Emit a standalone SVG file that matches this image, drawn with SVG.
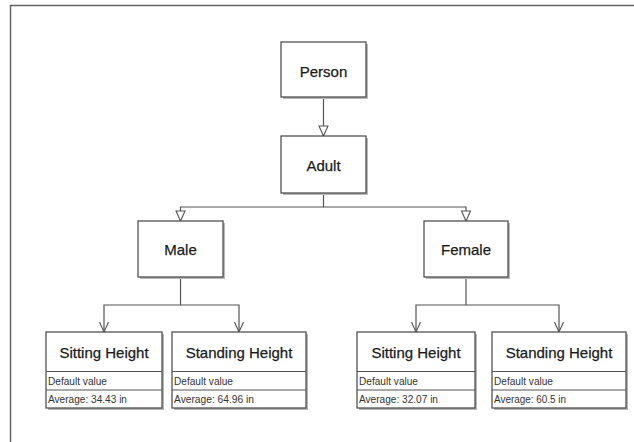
<svg xmlns="http://www.w3.org/2000/svg" width="634" height="442" viewBox="0 0 634 442">
<style>
.box{fill:#fff;stroke:#444;stroke-width:1.2}
.sh{fill:#b8b8b8}
.ln{fill:none;stroke:#555;stroke-width:1.2}
.t{font-family:"Liberation Sans",Arial,sans-serif;font-size:15px;fill:#1a1a1a;text-anchor:middle;stroke:#1a1a1a;stroke-width:0.25}
.s{font-family:"Liberation Sans",Arial,sans-serif;font-size:10px;fill:#333}
</style>
<defs>
<marker id="tri" markerUnits="userSpaceOnUse" markerWidth="12" markerHeight="12" viewBox="0 0 12 12" refX="11" refY="6" orient="auto">
<path d="M1,1.5 L11,6 L1,10.5 z" fill="#fff" stroke="#555" stroke-width="1.1"/>
</marker>
<marker id="vee" markerUnits="userSpaceOnUse" markerWidth="12" markerHeight="12" viewBox="0 0 12 12" refX="11" refY="6" orient="auto">
<path d="M1,1.5 L11,6 L1,10.5" fill="none" stroke="#555" stroke-width="1.1"/>
</marker>
</defs>
<rect width="634" height="442" fill="#fff"/>
<path d="M10.5,442 V5.5 H634" fill="none" stroke="#666" stroke-width="1.5"/>

<g id="connectors">
<path class="ln" d="M323.5,97 V136" marker-end="url(#tri)"/>
<path class="ln" d="M323.5,193 V207 H180.5 V221" marker-end="url(#tri)"/>
<path class="ln" d="M323.5,207 H466 V221" marker-end="url(#tri)"/>
<path class="ln" d="M180.5,277 V305 H104 V332" marker-end="url(#vee)"/>
<path class="ln" d="M180.5,305 H239 V332" marker-end="url(#vee)"/>
<path class="ln" d="M466,277 V305 H416 V332" marker-end="url(#vee)"/>
<path class="ln" d="M466,305 H559 V332" marker-end="url(#vee)"/>
</g>

<g id="person">
<rect class="sh" x="283" y="44" width="85" height="55"/>
<rect class="box" x="281" y="42" width="85" height="55"/>
<text class="t" x="323.5" y="77">Person</text>
</g>
<g id="adult">
<rect class="sh" x="283" y="138" width="85" height="57"/>
<rect class="box" x="281" y="136" width="85" height="57"/>
<text class="t" x="323.5" y="171">Adult</text>
</g>
<g id="male">
<rect class="sh" x="140" y="223" width="85" height="56"/>
<rect class="box" x="138" y="221" width="85" height="56"/>
<text class="t" x="180.5" y="255">Male</text>
</g>
<g id="female">
<rect class="sh" x="426" y="223" width="84" height="56"/>
<rect class="box" x="424" y="221" width="84" height="56"/>
<text class="t" x="466" y="255">Female</text>
</g>

<g id="male-sitting">
<rect class="sh" x="48" y="334" width="116" height="76"/>
<rect class="box" x="46" y="332" width="116" height="76"/>
<line class="ln" x1="46" y1="371.5" x2="162" y2="371.5"/>
<line class="ln" x1="46" y1="390" x2="162" y2="390"/>
<text class="t" x="104" y="358">Sitting Height</text>
<text class="s" x="48" y="384.5" textLength="59" lengthAdjust="spacingAndGlyphs">Default value</text>
<text class="s" x="48" y="403" textLength="79" lengthAdjust="spacingAndGlyphs">Average: 34.43 in</text>
</g>
<g id="male-standing">
<rect class="sh" x="174" y="334" width="134" height="76"/>
<rect class="box" x="172" y="332" width="134" height="76"/>
<line class="ln" x1="172" y1="371.5" x2="306" y2="371.5"/>
<line class="ln" x1="172" y1="390" x2="306" y2="390"/>
<text class="t" x="239" y="358">Standing Height</text>
<text class="s" x="174" y="384.5" textLength="59" lengthAdjust="spacingAndGlyphs">Default value</text>
<text class="s" x="174" y="403" textLength="80" lengthAdjust="spacingAndGlyphs">Average: 64.96 in</text>
</g>
<g id="female-sitting">
<rect class="sh" x="359" y="334" width="118" height="76"/>
<rect class="box" x="357" y="332" width="118" height="76"/>
<line class="ln" x1="357" y1="371.5" x2="475" y2="371.5"/>
<line class="ln" x1="357" y1="390" x2="475" y2="390"/>
<text class="t" x="416" y="358">Sitting Height</text>
<text class="s" x="359" y="384.5" textLength="59" lengthAdjust="spacingAndGlyphs">Default value</text>
<text class="s" x="359" y="403" textLength="79" lengthAdjust="spacingAndGlyphs">Average: 32.07 in</text>
</g>
<g id="female-standing">
<rect class="sh" x="494" y="334" width="134" height="76"/>
<rect class="box" x="492" y="332" width="134" height="76"/>
<line class="ln" x1="492" y1="371.5" x2="626" y2="371.5"/>
<line class="ln" x1="492" y1="390" x2="626" y2="390"/>
<text class="t" x="559" y="358">Standing Height</text>
<text class="s" x="494" y="384.5" textLength="59" lengthAdjust="spacingAndGlyphs">Default value</text>
<text class="s" x="494" y="403" textLength="72" lengthAdjust="spacingAndGlyphs">Average: 60.5 in</text>
</g>
</svg>
